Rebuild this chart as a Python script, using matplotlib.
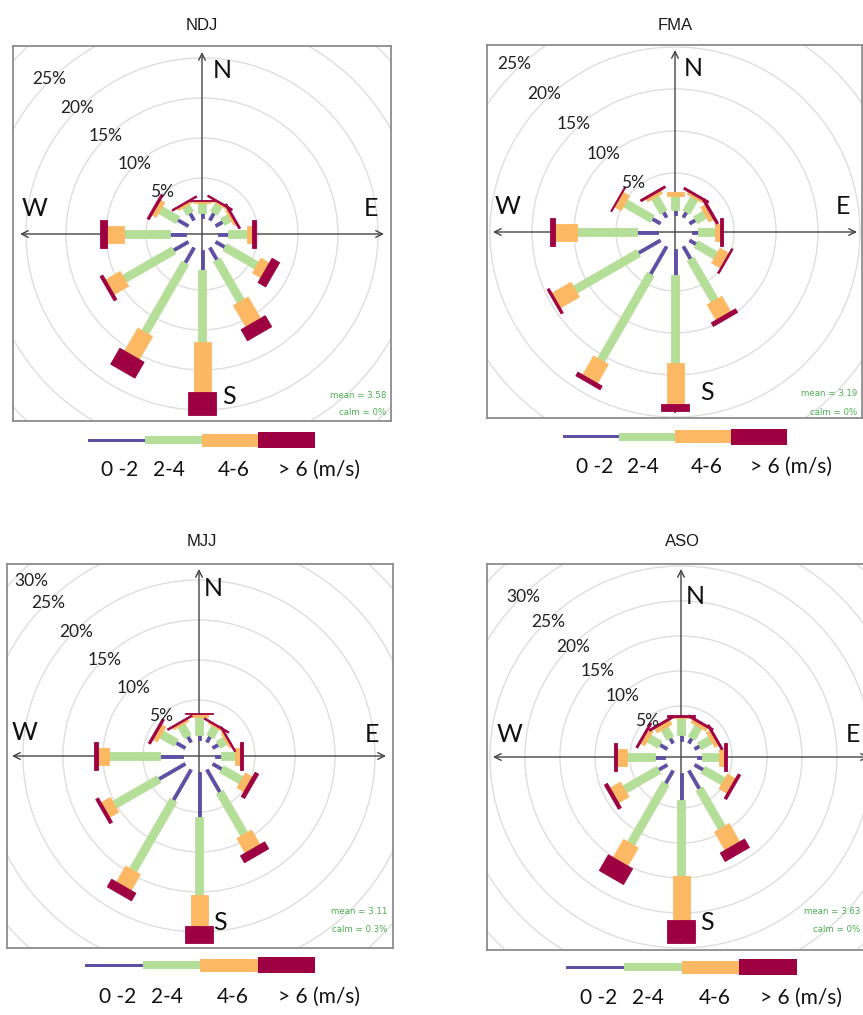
import numpy as np
import matplotlib.pyplot as plt
from matplotlib.patches import Polygon, Circle, Rectangle

W_PX, H_PX = 863, 1015

seasons = ["NDJ", "FMA", "MJJ", "ASO"]
directions = [0, 30, 60, 90, 120, 150, 180, 210, 240, 270, 300, 330]
speed_labels = ["0 -2", "2-4", "4-6", "> 6 (m/s)"]
speed_colours = ["#5e4fa2", "#b5df98", "#fdb863", "#9e0142"]

# frequency (%) by direction, one list per speed class
ndj_0_2 = [0.6, 1.0, 1.0, 1.3, 1.3, 1.75, 2.5, 2.2, 2.1, 2.0, 1.5, 1.0]
ndj_2_4 = [1.3, 1.2, 1.0, 2.3, 4.6, 5.95, 9.0, 10.0, 7.1, 5.75, 2.5, 1.0]
ndj_4_6 = [0.2, 0.2, 0.3, 0.65, 1.2, 3.1, 6.2, 3.3, 2.1, 2.15, 0.6, 0.3]
ndj_6up = [0.2, 0.2, 0.25, 0.45, 1.1, 1.6, 2.9, 2.3, 0.4, 0.8, 0.3, 0.2]

fma_0_2 = [0.6, 0.7, 0.8, 0.7, 0.9, 1.7, 3.1, 3.8, 3.0, 2.5, 1.1, 0.7]
fma_2_4 = [1.7, 1.9, 1.3, 2.0, 2.7, 5.7, 10.5, 11.8, 8.7, 7.1, 3.7, 2.0]
fma_4_6 = [0.4, 0.3, 0.6, 0.6, 1.2, 2.1, 4.9, 2.6, 2.6, 2.7, 0.9, 0.4]
fma_6up = [0.0, 0.25, 0.3, 0.35, 0.2, 0.5, 0.8, 0.5, 0.3, 0.6, 0.15, 0.25]

mjj_0_2 = [0.6, 0.8, 0.8, 0.8, 1.3, 3.25, 5.6, 4.4, 3.8, 2.9, 1.3, 0.8]
mjj_2_4 = [2.3, 1.3, 1.0, 1.7, 2.8, 6.05, 9.8, 10.1, 6.4, 6.3, 2.1, 1.6]
mjj_4_6 = [0.35, 0.2, 0.3, 0.6, 1.0, 2.1, 3.9, 2.3, 1.3, 1.4, 0.6, 0.3]
mjj_6up = [0.15, 0.2, 0.2, 0.35, 0.5, 1.0, 2.1, 1.1, 0.4, 0.5, 0.3, 0.2]

aso_0_2 = [0.8, 0.8, 0.8, 0.7, 1.4, 3.0, 3.8, 2.1, 1.4, 1.4, 1.2, 0.8]
aso_2_4 = [2.5, 1.9, 1.8, 2.4, 3.3, 6.4, 10.9, 9.9, 5.6, 4.0, 1.8, 1.6]
aso_4_6 = [0.2, 0.5, 0.6, 0.8, 1.3, 3.0, 6.3, 3.0, 1.7, 1.4, 0.7, 0.7]
aso_6up = [0.2, 0.3, 0.3, 0.4, 0.4, 1.4, 3.3, 2.6, 0.5, 0.5, 0.3, 0.3]

mean_ws = [3.58, 3.19, 3.11, 3.63]
calm_pct = ["0%", "0%", "0.3%", "0%"]
ring_pct = [5, 10, 15, 20, 25, 30, 35]
ring_labels = {"NDJ": [5, 10, 15, 20, 25], "FMA": [5, 10, 15, 20, 25],
               "MJJ": [5, 10, 15, 20, 25, 30], "ASO": [5, 10, 15, 20, 25, 30]}

freqs = {
    "NDJ": [ndj_0_2, ndj_2_4, ndj_4_6, ndj_6up],
    "FMA": [fma_0_2, fma_2_4, fma_4_6, fma_6up],
    "MJJ": [mjj_0_2, mjj_2_4, mjj_4_6, mjj_6up],
    "ASO": [aso_0_2, aso_2_4, aso_4_6, aso_6up],
}

# layout, all in pixels of the final image
layout = {
    "NDJ": dict(box=(13, 46, 391, 421), c=(202, 234), scale=8.0, off=16, arm=182,
                title=(202, 25), leg=(88, 315, 440, 470), stat=(386, 396, 412),
                lab=[(20, -163), (169, -26), (27, 163), (-167, -26)], shift=(0, -2)),
    "FMA": dict(box=(487, 45, 862, 418), c=(675, 232), scale=8.4, off=17, arm=182,
                title=(675, 25), leg=(563, 787, 437, 467), stat=(857, 394, 412),
                lab=[(18, -164), (168, -25), (32, 161), (-167, -25)], shift=(0, -7)),
    "MJJ": dict(box=(7, 564, 393, 948), c=(199, 756), scale=8.0, off=16, arm=187,
                title=(202, 541), leg=(85, 315, 965, 997), stat=(387, 912, 930),
                lab=[(14, -168), (173, -21), (21, 167), (-174, -23)], shift=(2, 0)),
    "ASO": dict(box=(487, 564, 875, 950), c=(681, 757), scale=7.0, off=16, arm=188,
                title=(682, 541), leg=(566, 797, 967, 998), stat=(860, 912, 930),
                lab=[(14, -160), (172, -22), (26, 166), (-171, -22)], shift=(2, 0)),
}
paddle_px = [3, 8, 17, 28]
compass = ["N", "E", "S", "W"]
rose_font = ["Lato", "DejaVu Sans"]


def fig_rect(l, t, r, b):
    return [l / W_PX, 1 - b / H_PX, (r - l) / W_PX, (b - t) / H_PX]


def paddle(ax, wd, r0, r1, width, colour):
    t = np.radians(wd)
    ux, uy = np.sin(t), np.cos(t)
    px, py = np.cos(t), -np.sin(t)
    h = width / 2
    pts = [(r0 * ux + h * px, r0 * uy + h * py), (r1 * ux + h * px, r1 * uy + h * py),
           (r1 * ux - h * px, r1 * uy - h * py), (r0 * ux - h * px, r0 * uy - h * py)]
    ax.add_patch(Polygon(pts, closed=True, facecolor=colour, edgecolor=colour,
                         lw=0.6, zorder=4))


fig = plt.figure(figsize=(W_PX / 100, H_PX / 100), dpi=100)

for i, s in enumerate(seasons):
    p = layout[s]
    l, t, r, b = p["box"]
    cx, cy = p["c"]
    k = p["scale"]
    off = p["off"] / k
    ax = fig.add_axes(fig_rect(l, t, r, b))
    ax.set_xlim((l - cx) / k, (r - cx) / k)
    ax.set_ylim((cy - b) / k, (cy - t) / k)
    ax.set_xticks([])
    ax.set_yticks([])
    for sp in ax.spines.values():
        sp.set_color("#8c8c8c")
        sp.set_linewidth(1.3)

    # grid rings and their labels (kept inside the frame)
    for v in ring_pct:
        ax.add_patch(Circle((0, 0), off + v, fill=False, ec="#dedede", lw=1.0, zorder=1))
    xmin = (l + 24 - cx) / k
    ymax = (cy - t - 17) / k
    sx0, sy0 = p["shift"]
    for v in ring_labels[s]:
        rr = off + v
        x = max(-rr * 0.7071 + sx0 / k, xmin)
        y = min(rr * 0.7071 - sy0 / k, ymax)
        ax.text(x, y, f"{v}%", fontsize=12.5, family=rose_font,
                color="#222222", ha="center", va="center", zorder=6)

    # compass axes
    a = p["arm"] / k
    arrow = dict(arrowstyle="<->", color="#444444", lw=1.0, mutation_scale=12,
                 shrinkA=0, shrinkB=0)
    ax.annotate("", xy=(a, 0), xytext=(-a, 0), arrowprops=arrow, zorder=2)
    ax.annotate("", xy=(0, a), xytext=(0, -a), arrowprops=arrow, zorder=2)
    for name, (dx, dy) in zip(compass, p["lab"]):
        ax.text(dx / k, -dy / k, name, fontsize=18, family=rose_font, color="#111111",
                ha="center", va="center", zorder=6)

    # paddles, cumulative by speed class
    cum = np.zeros(len(directions))
    for j, vals in enumerate(freqs[s]):
        vals = np.array(vals)
        for d, c0, v in zip(directions, cum, vals):
            if v > 0:
                paddle(ax, d, off + c0, off + c0 + v, paddle_px[j] / k, speed_colours[j])
        cum = cum + vals

    # stats text
    sx, my, cyy = p["stat"]
    fig.text(sx / W_PX, 1 - my / H_PX, f"mean = {mean_ws[i]}", fontsize=6.2,
             color="#4caf50", ha="right", va="center")
    fig.text(sx / W_PX, 1 - cyy / H_PX, f"calm = {calm_pct[i]}", fontsize=6.2,
             color="#4caf50", ha="right", va="center")

    # title
    tx, ty = p["title"]
    fig.text(tx / W_PX, 1 - ty / H_PX, s, fontsize=12, family="Liberation Sans",
             color="#1a1a1a", ha="center", va="center")

    # speed legend below the panel
    bl, br, by, ty2 = p["leg"]
    lax = fig.add_axes(fig_rect(bl, by - 12, br, ty2 + 14))
    lax.set_xlim(0, 4)
    lax.set_ylim(-(ty2 - by) - 14, 12)
    lax.axis("off")
    for j, col in enumerate(speed_colours):
        h = [3, 8, 13, 16][j]
        lax.add_patch(Rectangle((j, -h / 2), 1, h, facecolor=col, edgecolor="none"))
    for xpos, lab in zip([0.56, 1.42, 2.57, 4.07], speed_labels):
        lax.text(xpos, -(ty2 - by), lab, fontsize=15, family=rose_font, color="#111111",
                 ha="center", va="center", clip_on=False)

fig.savefig("out.png", dpi=100)
